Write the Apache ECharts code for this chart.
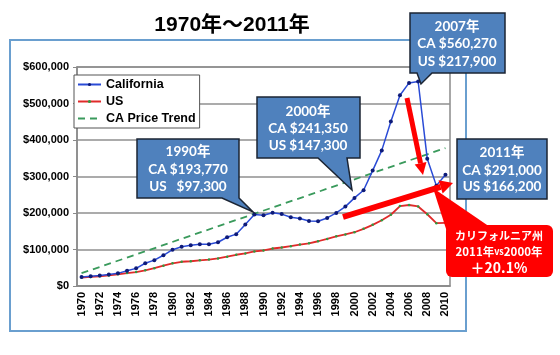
<!DOCTYPE html>
<html><head><meta charset="utf-8">
<script src="https://cdn.jsdelivr.net/npm/echarts@6/dist/echarts.min.js"></script>
<style>html,body{margin:0;padding:0;background:#fff}#c{width:560px;height:355px}</style>
</head><body><div id="c"></div>
<script>
const years = ['1970','1971','1972','1973','1974','1975','1976','1977','1978','1979',
  '1980','1981','1982','1983','1984','1985','1986','1987','1988','1989',
  '1990','1991','1992','1993','1994','1995','1996','1997','1998','1999',
  '2000','2001','2002','2003','2004','2005','2006','2007','2008','2009','2010'];
const caValues = [24640,26880,28810,31460,34610,41600,48290,62290,70890,84150,
  99550,107710,111800,114370,114260,119860,133640,142060,168200,196120,
  193770,200660,197030,188240,185010,178160,177270,186490,200100,217510,
  241350,262350,316130,371520,450770,522670,556430,560270,348500,275000,305000];
const usValues = [23000,24800,26700,28900,32000,35300,38100,42900,48700,55700,
  62200,66400,67800,70300,72400,75500,80300,85600,89300,94600,
  97300,102700,105500,109100,113500,117000,122600,129000,136000,141200,
  147300,156600,167600,180200,195200,219000,221900,217900,196600,172100,173100];
const trendEnds = [35000, 378000]; // CA Price Trend at first and last year
const seriesNames = ['California', 'US', 'CA Price Trend'];
const titleText = '1970年～2011年';

const trendData = years.map((y, i) => i === 0 ? trendEnds[0] : (i === years.length - 1 ? trendEnds[1] : null));

const boxFont = 'bold 13.5px Lato, "Noto Sans CJK JP", sans-serif';
function txt(x, y, s, font) {
  return {type:'text', x:x, y:y, z:101, style:{text:s, fill:'#fff', font:font || boxFont, align:'center', verticalAlign:'middle'}};
}
function arrow(x1, y1, x2, y2, w, head, hw) {
  const dx = x2 - x1, dy = y2 - y1, L = Math.hypot(dx, dy);
  const ux = dx / L, uy = dy / L, nx = -uy, ny = ux;
  const bx = x2 - ux * head, by = y2 - uy * head;
  return [
    {type:'line', z:90, shape:{x1:x1, y1:y1, x2:bx, y2:by}, style:{stroke:'#ff0000', lineWidth:w}},
    {type:'polygon', z:90, shape:{points:[[x2,y2],[bx+nx*hw,by+ny*hw],[bx-nx*hw,by-ny*hw]]}, style:{fill:'#ff0000'}}
  ];
}
const calloutStyle = {fill:'#4f81bd', stroke:'#1b2433', lineWidth:1.5};

const graphics = [
  {type:'rect', z:0, shape:{x:10, y:40, width:456, height:291}, style:{fill:'none', stroke:'#6a9fcf', lineWidth:2}},
  {type:'text', x:232, y:25, z:5, style:{text:titleText, fill:'#000', font:'bold 21px "Liberation Sans", "Noto Sans CJK JP", sans-serif', align:'center', verticalAlign:'middle'}},
  ...arrow(343, 217, 453, 183, 6, 13, 7),
  ...arrow(407, 98, 423, 175, 5, 12, 6),
  {type:'polygon', z:100, shape:{points:[[137,139],[239,139],[239,198],[253,212],[222,198],[137,198]]}, style:calloutStyle},
  txt(188, 152, '1990年'), txt(188, 170, 'CA $193,770'), txt(188, 187, 'US   $97,300'),
  {type:'polygon', z:100, shape:{points:[[257,97],[360,97],[360,158],[347,158],[352,190],[318,158],[257,158]]}, style:calloutStyle},
  txt(308, 112, '2000年'), txt(308, 129, 'CA $241,350'), txt(308, 146, 'US $147,300'),
  {type:'polygon', z:100, shape:{points:[[410,13],[505,13],[505,73],[432,73],[421,84],[417,73],[410,73]]}, style:calloutStyle},
  txt(457, 27, '2007年'), txt(457, 44, 'CA $560,270'), txt(457, 62, 'US $217,900'),
  {type:'rect', z:100, shape:{x:457, y:139, width:90, height:60}, style:calloutStyle},
  txt(502, 153, '2011年'), txt(502, 171, 'CA $291,000'), txt(502, 187, 'US $166,200'),
  {type:'polygon', z:95, shape:{points:[[433,188],[490,227],[447,232]]}, style:{fill:'#ff0000'}},
  {type:'rect', z:96, shape:{x:446, y:225, width:107, height:52, r:6}, style:{fill:'#ff0000'}},
  txt(499, 236, 'カリフォルニア州', 'bold 11px "Noto Sans CJK JP", sans-serif'),
  {type:'text', x:499, y:252, z:101, style:{text:'{a|2011年}{b|vs}{a|2000年}', fill:'#fff', align:'center', verticalAlign:'middle',
     rich:{a:{fill:'#fff', font:'bold 11.5px "Noto Sans CJK JP", sans-serif'}, b:{fill:'#fff', font:'bold 9px "Noto Sans CJK JP", sans-serif'}}}},
  txt(499, 268, '＋20.1%', 'bold 14px "Noto Sans CJK JP", sans-serif')
];

const chart = echarts.init(document.getElementById('c'), null, {renderer:'canvas'});
const axisFont = {fontFamily:'"Liberation Sans", Arial, sans-serif', fontWeight:'bold', fontSize:11, color:'#000'};
chart.setOption({
  animation:false,
  backgroundColor:'#fff',
  grid:{left:77, right:110, top:67, bottom:69, show:true, borderColor:'#8a8a8a', borderWidth:1.5},
  legend:{
    left:74, top:75, orient:'vertical',
    data:[{name:seriesNames[0]}, {name:seriesNames[1]}, {name:seriesNames[2], itemStyle:{opacity:0}}],
    backgroundColor:'#fff', borderColor:'#555', borderWidth:1, padding:[3,4,3,3],
    itemGap:4, itemWidth:23, itemHeight:4,
    textStyle:{fontFamily:'"Liberation Sans", Arial, sans-serif', fontWeight:'bold', fontSize:12.5, color:'#000'}
  },
  xAxis:{
    type:'category', data:years, boundaryGap:true,
    axisLine:{lineStyle:{color:'#8a8a8a', width:1.5}},
    axisTick:{interval:0, length:5, lineStyle:{color:'#555'}},
    axisLabel:Object.assign({interval:1, rotate:90, margin:6}, axisFont)
  },
  yAxis:{
    type:'value', min:0, max:600000, interval:100000,
    axisLine:{show:true, lineStyle:{color:'#8a8a8a', width:1.5}},
    axisTick:{show:true, length:4, lineStyle:{color:'#8a8a8a'}},
    splitLine:{lineStyle:{color:'#8f8f8f', width:1.5}},
    axisLabel:Object.assign({margin:8, formatter:v => '$' + v.toLocaleString('en-US')}, axisFont)
  },
  series:[
    {name:seriesNames[0], type:'line', data:caValues, z:4, symbol:'circle', symbolSize:4, showSymbol:true,
     lineStyle:{color:'#2a4bd6', width:1.5}, itemStyle:{color:'#0d1a78'}},
    {name:seriesNames[1], type:'line', data:usValues, z:3, symbol:'circle', symbolSize:2.5,
     lineStyle:{color:'#e02a2a', width:1.8}, itemStyle:{color:'#2f9a3f'}},
    {name:seriesNames[2], type:'line', data:trendData, z:2, connectNulls:true, symbol:'none',
     lineStyle:{color:'#3a9a5c', width:1.8, type:[7,5]}, itemStyle:{color:'#3a9a5c'}}
  ],
  graphic:{elements:graphics}
});
</script></body></html>
